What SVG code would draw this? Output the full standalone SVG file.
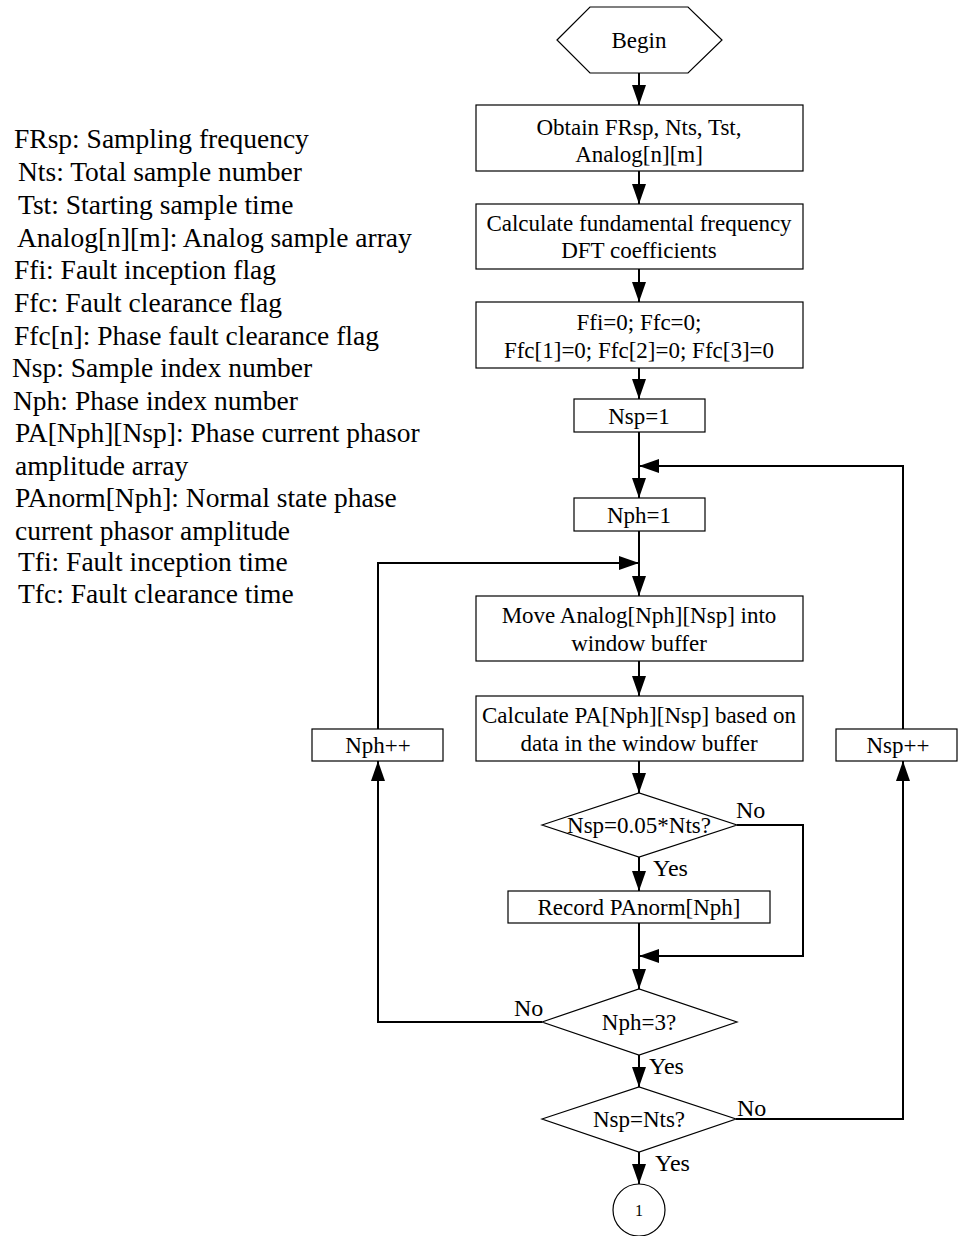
<svg xmlns="http://www.w3.org/2000/svg" width="958" height="1236" viewBox="0 0 958 1236">
<style>
.n{fill:#fff;stroke:#000;stroke-width:1.2}
.c{fill:none;stroke:#000;stroke-width:2}
.t{font-family:"Liberation Serif","Times New Roman",serif;font-size:23px;fill:#000;text-anchor:middle}
.l{font-family:"Liberation Serif","Times New Roman",serif;font-size:27.5px;fill:#000}
.s{font-family:"Liberation Serif","Times New Roman",serif;font-size:24px;fill:#000}
</style>
<defs>
<marker id="a" markerUnits="userSpaceOnUse" markerWidth="20" markerHeight="14" refX="20" refY="7" orient="auto">
<path d="M0,0 L20,7 L0,14 z" fill="#000"/>
</marker>
</defs>
<g id="legend">
<text class="l" x="14" y="148">FRsp: Sampling frequency</text>
<text class="l" x="18" y="181">Nts: Total sample number</text>
<text class="l" x="18" y="214">Tst: Starting sample time</text>
<text class="l" x="17" y="247">Analog[n][m]: Analog sample array</text>
<text class="l" x="14" y="279">Ffi: Fault inception flag</text>
<text class="l" x="14" y="312">Ffc: Fault clearance flag</text>
<text class="l" x="14" y="345">Ffc[n]: Phase fault clearance flag</text>
<text class="l" x="12" y="377">Nsp: Sample index number</text>
<text class="l" x="13" y="410">Nph: Phase index number</text>
<text class="l" x="15" y="442">PA[Nph][Nsp]: Phase current phasor</text>
<text class="l" x="15" y="475">amplitude array</text>
<text class="l" x="15" y="507">PAnorm[Nph]: Normal state phase</text>
<text class="l" x="15" y="540">current phasor amplitude</text>
<text class="l" x="18" y="571">Tfi: Fault inception time</text>
<text class="l" x="18" y="603">Tfc: Fault clearance time</text>
</g>
<g id="connectors">
<path class="c" d="M639,73 V105" marker-end="url(#a)"/>
<path class="c" d="M639,171 V204" marker-end="url(#a)"/>
<path class="c" d="M639,269 V302" marker-end="url(#a)"/>
<path class="c" d="M639,368 V399" marker-end="url(#a)"/>
<path class="c" d="M639,432 V498" marker-end="url(#a)"/>
<path class="c" d="M903,729 V466 H639" marker-end="url(#a)"/>
<path class="c" d="M639,531 V596" marker-end="url(#a)"/>
<path class="c" d="M378,729 V563 H639" marker-end="url(#a)"/>
<path class="c" d="M639,661 V696" marker-end="url(#a)"/>
<path class="c" d="M639,761 V793" marker-end="url(#a)"/>
<path class="c" d="M639,857 V891" marker-end="url(#a)"/>
<path class="c" d="M639,923 V989" marker-end="url(#a)"/>
<path class="c" d="M737,825 H803 V956 H639" marker-end="url(#a)"/>
<path class="c" d="M542,1022 H378 V761" marker-end="url(#a)"/>
<path class="c" d="M639,1055 V1087" marker-end="url(#a)"/>
<path class="c" d="M736,1119 H903 V761" marker-end="url(#a)"/>
<path class="c" d="M639,1152 V1184" marker-end="url(#a)"/>
<text class="s" x="736" y="818">No</text>
<text class="s" x="653" y="876">Yes</text>
<text class="s" x="514" y="1016">No</text>
<text class="s" x="649" y="1074">Yes</text>
<text class="s" x="737" y="1116">No</text>
<text class="s" x="655" y="1171">Yes</text>
</g>
<g id="begin">
<polygon class="n" points="557,40 590,7 688,7 722,40 688,73 590,73"/>
<text class="t" x="639" y="48">Begin</text>
</g>
<g id="obtain">
<rect class="n" x="476" y="105" width="327" height="66"/>
<text class="t" x="639" y="135">Obtain FRsp, Nts, Tst,</text>
<text class="t" x="639" y="162">Analog[n][m]</text>
</g>
<g id="dft">
<rect class="n" x="476" y="204" width="327" height="65"/>
<text class="t" x="639" y="231">Calculate fundamental frequency</text>
<text class="t" x="639" y="258">DFT coefficients</text>
</g>
<g id="init">
<rect class="n" x="476" y="302" width="327" height="66"/>
<text class="t" x="639" y="330">Ffi=0; Ffc=0;</text>
<text class="t" x="639" y="358">Ffc[1]=0; Ffc[2]=0; Ffc[3]=0</text>
</g>
<g id="nsp1">
<rect class="n" x="574" y="399" width="131" height="33"/>
<text class="t" x="639" y="424">Nsp=1</text>
</g>
<g id="nph1">
<rect class="n" x="574" y="498" width="131" height="33"/>
<text class="t" x="639" y="523">Nph=1</text>
</g>
<g id="move">
<rect class="n" x="476" y="596" width="327" height="65"/>
<text class="t" x="639" y="623">Move Analog[Nph][Nsp] into</text>
<text class="t" x="639" y="651">window buffer</text>
</g>
<g id="calcpa">
<rect class="n" x="476" y="696" width="327" height="65"/>
<text class="t" x="639" y="723">Calculate PA[Nph][Nsp] based on</text>
<text class="t" x="639" y="751">data in the window buffer</text>
</g>
<g id="nphpp">
<rect class="n" x="312" y="729" width="131" height="32"/>
<text class="t" x="378" y="753">Nph++</text>
</g>
<g id="nsppp">
<rect class="n" x="836" y="729" width="121" height="32"/>
<text class="t" x="898" y="753">Nsp++</text>
</g>
<g id="d1">
<polygon class="n" points="542,825 639,793 737,825 639,857"/>
<text class="t" x="639" y="833">Nsp=0.05*Nts?</text>
</g>
<g id="record">
<rect class="n" x="508" y="891" width="262" height="32"/>
<text class="t" x="639" y="915">Record PAnorm[Nph]</text>
</g>
<g id="d2">
<polygon class="n" points="542,1022 639,989 737,1022 639,1055"/>
<text class="t" x="639" y="1030">Nph=3?</text>
</g>
<g id="d3">
<polygon class="n" points="542,1119 639,1087 736,1119 639,1152"/>
<text class="t" x="639" y="1127">Nsp=Nts?</text>
</g>
<g id="conn1">
<circle class="n" cx="639" cy="1210" r="26"/>
<text class="t" x="639" y="1216" style="font-size:16px">1</text>
</g>
</svg>
